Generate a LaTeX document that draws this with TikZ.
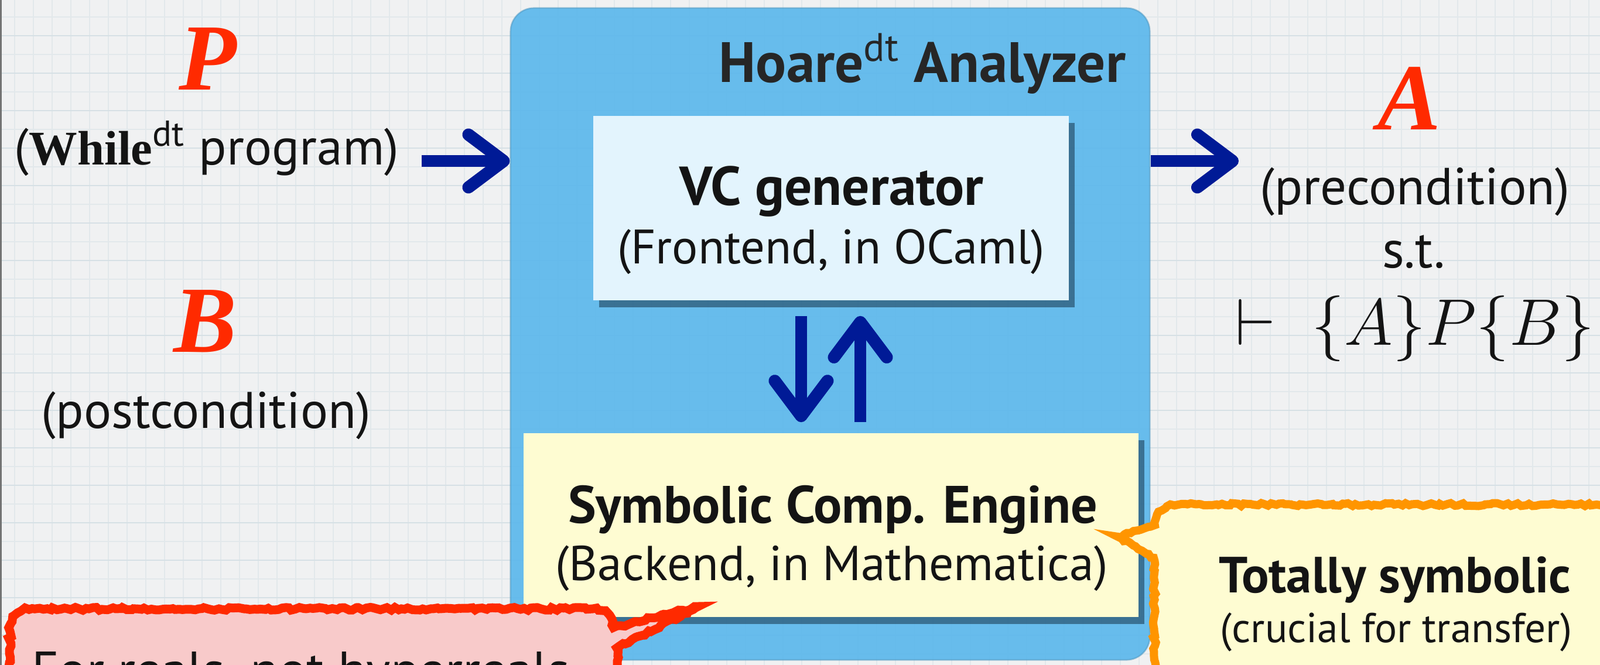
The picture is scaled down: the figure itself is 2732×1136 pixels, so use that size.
\RequirePackage{fix-cm}
\documentclass[tikz,border=0pt]{standalone}
\usepackage{fontspec}
\setmainfont{PT Sans}
\newfontfamily\timesf{Liberation Serif}
\usetikzlibrary{arrows.meta,shadows,decorations.pathmorphing}
\definecolor{bgc}{HTML}{F0F1F2}
\definecolor{gridminor}{HTML}{E2E8EB}
\definecolor{gridmajor}{HTML}{D6E0E5}
\definecolor{boxblue}{HTML}{5DB8EC}
\definecolor{vcfill}{HTML}{E3F4FD}
\definecolor{engfill}{HTML}{FEFCD2}
\definecolor{arrowblue}{HTML}{001A96}
\definecolor{redA}{HTML}{FF2A00}
\definecolor{pinkfill}{HTML}{F8CACA}
\definecolor{orangec}{HTML}{FF9500}
\definecolor{shadowc}{HTML}{2B5876}
\definecolor{textc}{HTML}{141414}
\newcommand\fsz[1]{\fontsize{#1}{#1}\selectfont}
\begin{document}
\begin{tikzpicture}[x=0.01cm,y=-0.01cm,
  gridline/.style={gridminor, line width=0.2mm},
  gridmaj/.style={gridmajor, line width=0.25mm},
  bluebox/.style={fill=boxblue, fill opacity=0.93, draw=boxblue!80!black, draw opacity=0.5, line width=0.25mm, rounded corners=4mm, inner sep=0pt},
  vcbox/.style={fill=vcfill, inner sep=0pt, drop shadow={shadow xshift=1.0mm, shadow yshift=-1.2mm, fill=shadowc, opacity=0.75}},
  engbox/.style={fill=engfill, inner sep=0pt, drop shadow={shadow xshift=1.0mm, shadow yshift=-1.2mm, fill=shadowc, opacity=0.75}},
  txt/.style={inner sep=0pt, anchor=base, text=textc},
  bigletter/.style={inner sep=0pt, anchor=base, text=redA, font=\timesf\bfseries\itshape\fsz{46}},
  bigarrow/.style={draw=arrowblue, line width=2mm, -{Straight Barb[length=6mm, width=9mm, line width=2.1mm, round]}},
  rough/.style={decorate, decoration={random steps, segment length=0.6mm, amplitude=0.25mm}},
  redcallout/.style={fill=pinkfill, postaction={draw=redA, line width=1.5mm, rough}},
  orangecallout/.style={fill=engfill, postaction={draw=orangec, line width=1.4mm, rough}}
]
\fill[bgc] (0,0) rectangle (2732,1136);
\useasboundingbox (0,0) rectangle (2732,1136);
\clip (0,0) rectangle (2732,1136);
\foreach \i in {-7,25,...,2745} \draw[gridline] (\i,0) -- (\i,1136);
\foreach \j in {-3,29,...,1150} \draw[gridline] (0,\j) -- (2732,\j);
\foreach \j in {61,125,...,1150} \draw[gridmaj] (0,\j) -- (2732,\j);
\draw[black!55, line width=0.3mm] (1.5,0) -- (1.5,1136);

% analyzer box
\node[bluebox, minimum width=109.1mm, minimum height=111.3mm] (analyzer) at (1417.5,570.5) {};
\node[txt, text=black!85, font=\bfseries\fsz{27.6}] (title) at (1575,140) {Hoare\textsuperscript{\mdseries dt} Analyzer};

% VC generator
\node[vcbox, minimum width=81.2mm, minimum height=31.5mm] (vc) at (1419,355.5) {};
\node[txt, font=\bfseries\fsz{26.6}] (vc1) at (1420,350) {VC generator};
\node[txt, font=\fsz{23.5}] (vc2) at (1419,450) {(Frontend, in OCaml)};

% Engine
\node[engbox, minimum width=105mm, minimum height=31.4mm] (eng) at (1419,897) {};
\node[txt, font=\bfseries\fsz{25.6}] (eng1) at (1422,893) {Symbolic Comp. Engine};
\node[txt, font=\fsz{23.8}] (eng2) at (1420,991) {(Backend, in Mathematica)};

% vertical arrows
\draw[bigarrow, shorten <=2.6mm, shorten >=1.8mm] ([xshift=-5.1mm]vc.south) -- ([xshift=-5.1mm]eng.north);
\draw[bigarrow, shorten <=1.8mm, shorten >=2.6mm] ([xshift=5mm]eng.north) -- ([xshift=5mm]vc.south);

% left side
\node[bigletter] (P) at (355,153) {P};
\node[txt, font=\fsz{25}] (prog) at (353,281) {({\timesf\bfseries\fsz{23.5}While}\textsuperscript{dt} program)};
\node[bigletter] (B) at (350,601) {B};
\node[txt, font=\fsz{25}] (post) at (352,731) {(postcondition)};
\coordinate (lstart) at (720,275);
\draw[bigarrow] (lstart) -- (lstart -| analyzer.west);

% right side
\coordinate (rend) at (2115,275);
\draw[bigarrow] (rend -| analyzer.east) -- (rend);
\node[bigletter] (A) at (2406,221) {A};
\node[txt, font=\fsz{25.3}] (pre) at (2416,349) {(precondition)};
\node[txt, font=\fsz{25.5}] (st) at (2414,457) {s.t.};
\node[txt, font=\fsz{32}] (hoare) at (2416,589) {$\vdash\ \{A\}P\{B\}$};

% orange callout
\path[orangecallout] (2760,862) -- (2012,862) .. controls (1988,862) and (1976,874) .. (1972,897) -- (1909,917) -- (1970,953) -- (1972,1170) -- (2760,1170) -- cycle;
\node[txt, font=\bfseries\fsz{24.7}] (tot1) at (2382,1012) {Totally symbolic};
\node[txt, font=\fsz{20.3}] (tot2) at (2384,1097) {(crucial for transfer)};

% red callout
\path[redcallout] (17,1170) -- (17,1078) .. controls (17,1054) and (30,1040) .. (55,1040) -- (1012,1040) .. controls (1034,1040) and (1045,1050) .. (1047,1072) -- (1192,1036) -- (1053,1107) -- (1055,1170) -- cycle;
\node[txt, anchor=base west, font=\fsz{25.2}] (reals) at (54,1175) {For reals, not hyperreals};
\end{tikzpicture}
\end{document}
